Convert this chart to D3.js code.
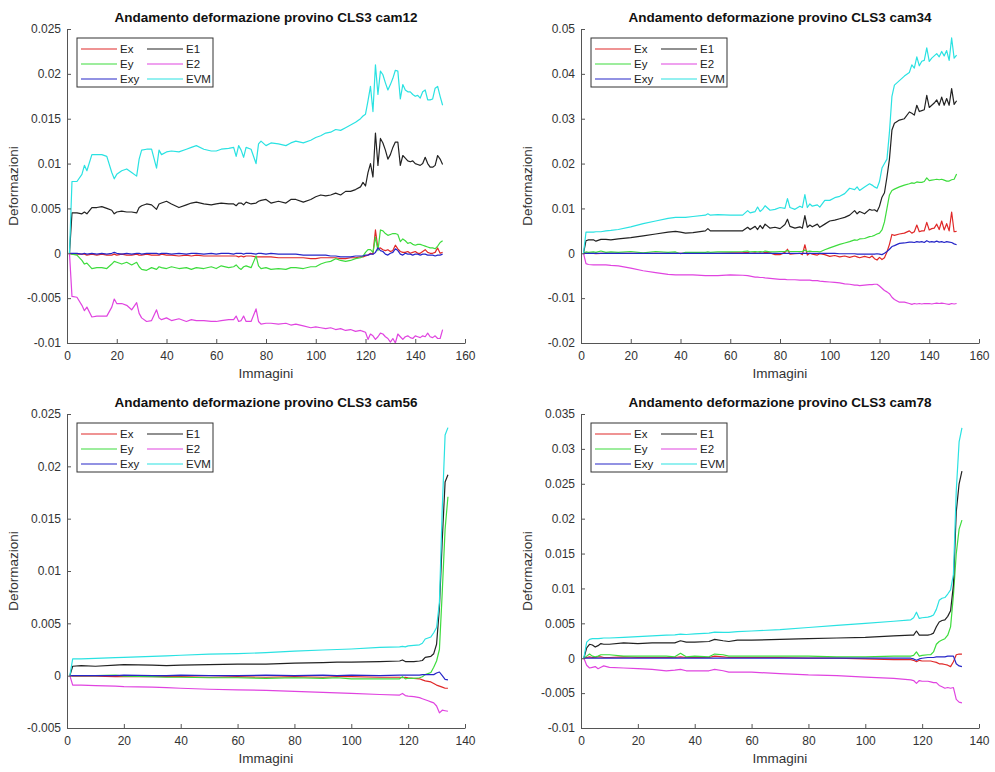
<!DOCTYPE html>
<html><head><meta charset="utf-8">
<script src="https://cdn.jsdelivr.net/npm/d3@7"></script>
<style>
body{margin:0;background:#fff}
svg{display:block}
text{font-family:"Liberation Sans",Arial,Helvetica,sans-serif}
</style>
</head><body>
<svg id="chart" width="995" height="772"></svg>
<script>
// ---------- series names / colours ----------
const seriesNames = ["Ex","Ey","Exy","E1","E2","EVM"];
const seriesColors = ["#e02828","#3ddc3d","#2626c8","#222222","#e044e0","#2ae2e2"];

// ---------- tick values / labels ----------
const xTicksTop = [0,20,40,60,80,100,120,140,160];
const xTicksBottom = [0,20,40,60,80,100,120,140];
const yTicksCam12 = [-0.01,-0.005,0,0.005,0.01,0.015,0.02,0.025];
const yLabelsCam12 = ["-0.01","-0.005","0","0.005","0.01","0.015","0.02","0.025"];
const yTicksCam34 = [-0.02,-0.01,0,0.01,0.02,0.03,0.04,0.05];
const yLabelsCam34 = ["-0.02","-0.01","0","0.01","0.02","0.03","0.04","0.05"];
const yTicksCam56 = [-0.005,0,0.005,0.01,0.015,0.02,0.025];
const yLabelsCam56 = ["-0.005","0","0.005","0.01","0.015","0.02","0.025"];
const yTicksCam78 = [-0.01,-0.005,0,0.005,0.01,0.015,0.02,0.025,0.03,0.035];
const yLabelsCam78 = ["-0.01","-0.005","0","0.005","0.01","0.015","0.02","0.025","0.03","0.035"];

// ---------- cam12 ----------
const imagesCam12 = [1,2,4,6,7,8,10,12,14,16, 18,19,20,22,24,26,28,29,30,32, 34,36,37,38,40,42,45,48,50,52, 55,58,60,62,65,67,68,69,70,71, 72,74,76,77,78,80,82,85,88,90, 92,95,98,100,102,104,106,108,110,112, 114,116,118,119,120,121,122,123,124,125, 126,127,128,129,130,131,132,133,134,135, 136,137,138,139,140,141,142,143,144,145, 146,147,148,149,150,151];
const exCam12 = [0,-0.1e-3,-0.1e-3,-0.1e-3,-0.1e-3,-0.2e-3,-0.1e-3,-0.2e-3,-0.1e-3,-0.2e-3,
 -0.2e-3,-0.1e-3,-0.2e-3,-0.1e-3,-0.2e-3,-0.2e-3,-0.1e-3,-0.2e-3,-0.2e-3,-0.1e-3,
 -0.2e-3,-0.2e-3,-0.2e-3,-0.1e-3,-0.2e-3,-0.2e-3,-0.3e-3,-0.2e-3,-0.3e-3,-0.2e-3,
 -0.3e-3,-0.3e-3,-0.3e-3,-0.3e-3,-0.3e-3,-0.3e-3,-0.3e-3,-0.4e-3,-0.3e-3,-0.4e-3,
 -0.3e-3,-0.3e-3,-0.4e-3,-0.4e-3,-0.4e-3,-0.4e-3,-0.4e-3,-0.5e-3,-0.5e-3,-0.5e-3,
 -0.5e-3,-0.5e-3,-0.6e-3,-0.6e-3,-0.5e-3,-0.5e-3,-0.5e-3,-0.5e-3,-0.6e-3,-0.6e-3,
 -0.5e-3,-0.5e-3,-0.4e-3,-0.4e-3,-0.3e-3,-0.2e-3,0,-0.1e-3,2.6e-3,0.5e-3,
 0.6e-3,0.4e-3,0.3e-3,0.4e-3,0.2e-3,0.3e-3,0.9e-3,0.5e-3,0.2e-3,0.1e-3,
 0.1e-3,0.2e-3,0,0.1e-3,0.2e-3,0,0,0.2e-3,0.4e-3,0.1e-3,
 0,0,0.1e-3,0.6e-3,0,0.1e-3];
const eyCam12 = [0,-0.1e-3,-0.2e-3,-0.8e-3,-1.2e-3,-1.1e-3,-1.7e-3,-1.6e-3,-1.6e-3,-1.7e-3,
 -1.2e-3,-0.9e-3,-1.0e-3,-1.2e-3,-1.0e-3,-1.3e-3,-1.0e-3,-1.5e-3,-1.8e-3,-1.9e-3,
 -1.6e-3,-1.8e-3,-1.5e-3,-1.6e-3,-1.7e-3,-1.5e-3,-1.7e-3,-1.6e-3,-1.8e-3,-1.6e-3,
 -1.7e-3,-1.5e-3,-1.7e-3,-1.4e-3,-1.6e-3,-1.5e-3,-1.3e-3,-1.6e-3,-1.8e-3,-1.5e-3,
 -1.4e-3,-1.6e-3,-0.3e-3,-1.4e-3,-1.7e-3,-1.6e-3,-1.8e-3,-1.7e-3,-1.8e-3,-1.6e-3,
 -1.6e-3,-1.7e-3,-1.5e-3,-1.5e-3,-1.2e-3,-1.0e-3,-0.9e-3,-0.6e-3,-0.8e-3,-0.9e-3,
 -0.8e-3,-0.6e-3,-0.5e-3,-0.3e-3,0.1e-3,0.4e-3,0.4e-3,0.1e-3,1.8e-3,0.3e-3,
 2.6e-3,2.5e-3,2.2e-3,2.0e-3,2.1e-3,2.2e-3,2.2e-3,2.1e-3,1.3e-3,1.6e-3,
 1.4e-3,1.1e-3,1.2e-3,1.0e-3,0.9e-3,1.0e-3,1.0e-3,0.9e-3,0.8e-3,0.7e-3,
 0.6e-3,0.6e-3,0.5e-3,0.8e-3,1.2e-3,1.4e-3];
const exyCam12 = [0,0,0,-0.1e-3,0,-0.1e-3,0,-0.1e-3,0,-0.1e-3,
 0,0.1e-3,0,-0.1e-3,0,-0.1e-3,0,0,-0.1e-3,0,
 0,0,-0.1e-3,0,0,-0.1e-3,0,-0.1e-3,0,0,
 -0.1e-3,0,-0.1e-3,0,0,-0.1e-3,0,0,0,-0.1e-3,
 0,0,-0.1e-3,0,0,-0.1e-3,0,-0.1e-3,-0.1e-3,-0.1e-3,
 -0.1e-3,-0.2e-3,-0.2e-3,-0.2e-3,-0.2e-3,-0.2e-3,-0.3e-3,-0.3e-3,-0.4e-3,-0.4e-3,
 -0.4e-3,-0.3e-3,-0.3e-3,-0.3e-3,-0.2e-3,-0.2e-3,-0.1e-3,-0.1e-3,0.1e-3,0.6e-3,
 0.3e-3,0.2e-3,-0.1e-3,-0.2e-3,0,0.1e-3,0.5e-3,0.3e-3,-0.1e-3,-0.2e-3,
 0,-0.1e-3,-0.1e-3,-0.2e-3,-0.1e-3,-0.1e-3,-0.2e-3,-0.1e-3,-0.1e-3,-0.2e-3,
 -0.2e-3,-0.2e-3,-0.3e-3,-0.2e-3,-0.2e-3,-0.1e-3];
const e1Cam12 = [0,4.5e-3,4.5e-3,4.4e-3,4.6e-3,4.4e-3,5.1e-3,5.1e-3,5.2e-3,5.0e-3,
 4.8e-3,4.4e-3,4.6e-3,4.7e-3,4.6e-3,4.6e-3,4.5e-3,5.1e-3,5.3e-3,5.5e-3,
 5.4e-3,4.9e-3,5.5e-3,5.6e-3,5.8e-3,5.5e-3,5.1e-3,5.4e-3,5.6e-3,5.7e-3,
 5.5e-3,5.4e-3,5.5e-3,5.6e-3,5.5e-3,5.5e-3,5.3e-3,5.6e-3,5.6e-3,5.4e-3,
 5.7e-3,5.5e-3,5.6e-3,5.8e-3,5.9e-3,6.0e-3,5.6e-3,5.8e-3,5.6e-3,6.0e-3,
 6.0e-3,5.7e-3,6.0e-3,6.3e-3,6.5e-3,6.4e-3,6.5e-3,6.7e-3,6.5e-3,6.9e-3,
 6.9e-3,7.1e-3,7.4e-3,7.9e-3,7.5e-3,9.0e-3,10.0e-3,8.5e-3,13.4e-3,9.8e-3,
 12.8e-3,12.3e-3,11.5e-3,10.5e-3,11.0e-3,11.8e-3,12.4e-3,12.4e-3,9.8e-3,10.9e-3,
 10.6e-3,10.3e-3,10.2e-3,10.3e-3,10.0e-3,9.9e-3,9.8e-3,10.0e-3,10.7e-3,10.0e-3,
 9.6e-3,9.6e-3,9.8e-3,10.9e-3,10.5e-3,9.9e-3];
const e2Cam12 = [0,-4.8e-3,-4.9e-3,-5.8e-3,-6.4e-3,-6.0e-3,-7.1e-3,-7.0e-3,-7.0e-3,-7.0e-3,
 -6.0e-3,-5.1e-3,-5.6e-3,-5.6e-3,-5.8e-3,-6.3e-3,-5.5e-3,-6.7e-3,-7.2e-3,-7.6e-3,
 -7.5e-3,-6.3e-3,-7.2e-3,-7.4e-3,-7.2e-3,-7.5e-3,-7.3e-3,-7.6e-3,-7.4e-3,-7.5e-3,
 -7.5e-3,-7.6e-3,-7.6e-3,-7.5e-3,-7.4e-3,-7.4e-3,-7.0e-3,-7.6e-3,-7.5e-3,-7.0e-3,
 -7.6e-3,-7.6e-3,-6.2e-3,-7.6e-3,-7.9e-3,-7.8e-3,-7.8e-3,-7.9e-3,-7.8e-3,-8.0e-3,
 -7.9e-3,-8.1e-3,-8.3e-3,-8.2e-3,-8.3e-3,-8.4e-3,-8.3e-3,-8.5e-3,-8.4e-3,-8.6e-3,
 -8.5e-3,-8.7e-3,-8.6e-3,-8.7e-3,-8.8e-3,-9.6e-3,-9.0e-3,-9.2e-3,-9.6e-3,-9.3e-3,
 -8.9e-3,-9.0e-3,-9.3e-3,-9.5e-3,-9.9e-3,-9.5e-3,-10.0e-3,-9.0e-3,-9.3e-3,-9.6e-3,
 -9.3e-3,-9.2e-3,-9.4e-3,-9.5e-3,-9.2e-3,-9.3e-3,-9.4e-3,-9.2e-3,-9.3e-3,-8.9e-3,
 -9.3e-3,-9.4e-3,-9.2e-3,-9.5e-3,-9.5e-3,-8.5e-3];
const evmCam12 = [0,8.0e-3,8.0e-3,8.8e-3,9.8e-3,9.2e-3,11.0e-3,11.0e-3,11.0e-3,10.8e-3,
 9.0e-3,8.3e-3,8.8e-3,9.2e-3,9.4e-3,9.0e-3,8.6e-3,10.5e-3,11.5e-3,11.6e-3,
 11.6e-3,9.5e-3,11.5e-3,11.0e-3,11.3e-3,11.4e-3,11.3e-3,11.6e-3,11.8e-3,12.0e-3,
 11.6e-3,11.4e-3,11.4e-3,11.6e-3,11.7e-3,11.8e-3,10.8e-3,12.0e-3,11.5e-3,10.7e-3,
 11.8e-3,11.6e-3,10.0e-3,12.2e-3,12.5e-3,12.0e-3,12.3e-3,12.2e-3,12.0e-3,12.3e-3,
 12.5e-3,12.3e-3,12.6e-3,12.9e-3,13.1e-3,13.4e-3,13.5e-3,13.8e-3,13.7e-3,14.0e-3,
 14.3e-3,14.6e-3,15.0e-3,15.3e-3,15.5e-3,17.0e-3,18.6e-3,15.8e-3,21.0e-3,17.7e-3,
 20.3e-3,19.9e-3,19.0e-3,18.2e-3,18.8e-3,19.5e-3,20.4e-3,20.3e-3,17.2e-3,18.8e-3,
 18.2e-3,18.0e-3,18.0e-3,17.7e-3,17.5e-3,17.6e-3,17.3e-3,18.0e-3,18.2e-3,17.1e-3,
 17.1e-3,17.2e-3,18.4e-3,18.6e-3,17.5e-3,16.5e-3];

// ---------- cam34 ----------
const imagesCam34 = [1,2,3,5,6,8,10,12,15,20, 25,30,35,38,40,42,45,50,51,52, 55,60,65,67,68,70,71,72,73,74, 76,78,80,82,83,84,86,88,89,90, 91,92,93,95,96,98,100,102,104,106, 108,110,111,112,114,116,117,118,119,120, 121,122,123,124,125,126,128,130,132,133, 134,135,136,137,138,139,140,141,142,143, 144,145,146,147,148,149,150,151];
const exCam34 = [0,0,0,0,-0.1e-3,0,0,0,0,0,
 0,0,0,0,0,0,0,0,0,0,
 0,0.1e-3,0.1e-3,0.2e-3,0,0.1e-3,0,0.1e-3,0,0.2e-3,
 0.1e-3,-0.3e-3,-0.3e-3,0.2e-3,0.9e-3,-0.2e-3,-0.1e-3,0,-0.3e-3,1.9e-3,
 -0.4e-3,0,-0.2e-3,-0.4e-3,-0.1e-3,-0.3e-3,-0.7e-3,-0.5e-3,-0.8e-3,-0.6e-3,
 -0.9e-3,-0.6e-3,-0.8e-3,-1.0e-3,-0.7e-3,-1.0e-3,-0.6e-3,-1.2e-3,-1.5e-3,-0.9e-3,
 -1.4e-3,-1.0e-3,0.3e-3,2.0e-3,4.2e-3,4.0e-3,4.3e-3,4.5e-3,5.0e-3,4.5e-3,
 4.8e-3,6.3e-3,4.8e-3,5.0e-3,5.0e-3,6.9e-3,5.2e-3,5.5e-3,5.6e-3,6.5e-3,
 5.3e-3,7.2e-3,5.2e-3,6.6e-3,5.0e-3,9.2e-3,4.8e-3,4.9e-3];
const eyCam34 = [0,0.3e-3,0.2e-3,0.3e-3,0.2e-3,0.5e-3,0.2e-3,0.3e-3,0.2e-3,0.4e-3,
 0.1e-3,0.4e-3,0.2e-3,0.3e-3,-0.1e-3,0.2e-3,0.2e-3,0.2e-3,0.3e-3,0.2e-3,
 0.3e-3,0.3e-3,0.4e-3,0.5e-3,0.3e-3,0.4e-3,0.3e-3,0.4e-3,0.3e-3,0.5e-3,
 0.3e-3,0.3e-3,0.4e-3,0.4e-3,0.6e-3,0.4e-3,0.4e-3,0.4e-3,0.4e-3,0.7e-3,
 0.4e-3,0.5e-3,0.4e-3,0.4e-3,0.3e-3,0.8e-3,1.2e-3,1.6e-3,2.0e-3,2.3e-3,
 2.6e-3,3.0e-3,2.9e-3,3.2e-3,3.3e-3,3.7e-3,3.8e-3,4.0e-3,4.3e-3,4.5e-3,
 5.2e-3,7.0e-3,10.0e-3,13.0e-3,14.0e-3,14.3e-3,14.8e-3,15.2e-3,15.5e-3,15.7e-3,
 15.6e-3,15.9e-3,15.8e-3,15.8e-3,16.0e-3,16.8e-3,16.2e-3,16.3e-3,16.4e-3,16.5e-3,
 16.4e-3,16.5e-3,16.3e-3,16.1e-3,16.1e-3,16.4e-3,16.5e-3,17.7e-3];
const exyCam34 = [0,0,0,0,0,0,0,0,0,0,
 0,0,0,0,0,0,0,0,0,0,
 0,0,0,0,0,0,0,0,0,0,
 0,0,0,0,0,0,0,0,0,0,
 0,0,0,0,0,0,0,0,-0.1e-3,-0.1e-3,
 -0.1e-3,-0.1e-3,-0.2e-3,-0.2e-3,-0.2e-3,-0.2e-3,-0.2e-3,-0.2e-3,-0.1e-3,-0.2e-3,
 -0.3e-3,0,0.4e-3,0.9e-3,1.5e-3,1.7e-3,2.2e-3,2.3e-3,2.5e-3,2.5e-3,
 2.4e-3,2.6e-3,2.5e-3,2.6e-3,2.4e-3,2.8e-3,2.5e-3,2.6e-3,2.5e-3,2.7e-3,
 2.5e-3,2.6e-3,2.4e-3,2.6e-3,2.5e-3,2.4e-3,2.1e-3,1.9e-3];
const e1Cam34 = [0,2.8e-3,3.0e-3,3.0e-3,2.7e-3,3.1e-3,3.1e-3,3.0e-3,3.2e-3,3.5e-3,
 3.9e-3,4.3e-3,4.7e-3,4.9e-3,4.7e-3,4.5e-3,4.6e-3,5.0e-3,5.5e-3,5.0e-3,
 5.0e-3,5.0e-3,5.0e-3,5.8e-3,5.3e-3,6.0e-3,5.3e-3,6.2e-3,5.5e-3,6.5e-3,
 5.6e-3,5.8e-3,5.5e-3,6.4e-3,7.6e-3,6.0e-3,5.6e-3,5.9e-3,5.6e-3,8.4e-3,
 5.8e-3,6.3e-3,5.9e-3,6.5e-3,5.8e-3,6.5e-3,7.2e-3,7.4e-3,7.7e-3,8.0e-3,
 8.5e-3,9.5e-3,8.8e-3,9.3e-3,8.8e-3,9.8e-3,9.6e-3,9.7e-3,9.3e-3,10.5e-3,
 12.5e-3,13.5e-3,17.0e-3,21.0e-3,27.5e-3,29.0e-3,29.7e-3,30.0e-3,31.5e-3,31.2e-3,
 30.8e-3,33.0e-3,31.6e-3,31.8e-3,32.0e-3,35.2e-3,32.5e-3,33.0e-3,33.5e-3,34.2e-3,
 33.0e-3,34.8e-3,33.0e-3,34.5e-3,33.0e-3,36.7e-3,33.2e-3,34.0e-3];
const e2Cam34 = [0,-2.3e-3,-2.5e-3,-2.6e-3,-2.6e-3,-2.6e-3,-2.6e-3,-2.7e-3,-2.8e-3,-3.3e-3,
 -3.9e-3,-4.3e-3,-4.7e-3,-4.8e-3,-4.8e-3,-4.8e-3,-4.8e-3,-5.0e-3,-5.0e-3,-5.0e-3,
 -5.0e-3,-4.8e-3,-4.9e-3,-5.0e-3,-5.1e-3,-5.3e-3,-5.3e-3,-5.4e-3,-5.4e-3,-5.5e-3,
 -5.6e-3,-5.7e-3,-5.8e-3,-5.8e-3,-5.9e-3,-5.9e-3,-5.9e-3,-6.0e-3,-6.0e-3,-6.0e-3,
 -6.0e-3,-6.0e-3,-6.1e-3,-6.1e-3,-6.2e-3,-6.3e-3,-6.4e-3,-6.5e-3,-6.6e-3,-6.8e-3,
 -6.9e-3,-7.1e-3,-7.1e-3,-7.2e-3,-7.1e-3,-7.0e-3,-7.0e-3,-6.9e-3,-6.9e-3,-7.3e-3,
 -7.8e-3,-8.3e-3,-8.6e-3,-9.0e-3,-9.8e-3,-10.3e-3,-10.9e-3,-10.9e-3,-11.2e-3,-11.4e-3,
 -11.2e-3,-11.3e-3,-11.2e-3,-11.3e-3,-11.2e-3,-11.2e-3,-11.2e-3,-11.3e-3,-11.2e-3,-11.1e-3,
 -11.2e-3,-11.1e-3,-11.2e-3,-11.3e-3,-11.4e-3,-11.2e-3,-11.3e-3,-11.2e-3];
const evmCam34 = [0,4.7e-3,4.7e-3,4.7e-3,4.8e-3,4.8e-3,5.0e-3,5.1e-3,5.3e-3,5.9e-3,
 6.6e-3,7.2e-3,7.8e-3,8.0e-3,8.0e-3,8.0e-3,8.2e-3,8.5e-3,8.8e-3,8.5e-3,
 8.6e-3,8.5e-3,8.5e-3,9.5e-3,9.0e-3,9.3e-3,10.3e-3,9.3e-3,9.8e-3,10.6e-3,
 9.6e-3,9.8e-3,10.2e-3,10.0e-3,12.2e-3,10.2e-3,9.8e-3,10.5e-3,10.2e-3,13.1e-3,
 10.2e-3,11.0e-3,10.5e-3,10.8e-3,10.3e-3,11.8e-3,11.8e-3,12.4e-3,12.7e-3,13.3e-3,
 14.5e-3,14.2e-3,14.8e-3,14.0e-3,14.8e-3,15.5e-3,15.2e-3,14.8e-3,14.5e-3,16.0e-3,
 19.0e-3,20.0e-3,21.0e-3,27.0e-3,35.0e-3,37.5e-3,38.5e-3,39.5e-3,40.3e-3,42.0e-3,
 41.3e-3,43.8e-3,41.8e-3,42.8e-3,43.0e-3,45.8e-3,42.8e-3,43.5e-3,44.0e-3,44.5e-3,
 43.8e-3,45.0e-3,44.0e-3,45.2e-3,43.0e-3,48.0e-3,43.5e-3,44.2e-3];

// ---------- cam56 ----------
const imagesCam56 = [1,2,5,10,17,20,30,35,40,50, 60,70,80,90,95,100,110,117,118,119, 120,122,124,125,126,127,128,129,130,131, 132,133,134];
const exCam56 = [0,-0.05e-3,-0.05e-3,-0.05e-3,-0.1e-3,-0.1e-3,-0.1e-3,-0.1e-3,-0.1e-3,-0.15e-3,
 -0.1e-3,-0.15e-3,-0.1e-3,-0.15e-3,-0.1e-3,-0.1e-3,-0.15e-3,-0.15e-3,-0.2e-3,-0.15e-3,
 -0.2e-3,-0.25e-3,-0.3e-3,-0.4e-3,-0.5e-3,-0.55e-3,-0.6e-3,-0.75e-3,-0.9e-3,-1.0e-3,
 -1.1e-3,-1.2e-3,-1.2e-3];
const eyCam56 = [0,0,0,0,0.05e-3,-0.05e-3,-0.1e-3,-0.15e-3,-0.15e-3,-0.2e-3,
 -0.2e-3,-0.25e-3,-0.2e-3,-0.25e-3,-0.2e-3,-0.3e-3,-0.3e-3,-0.3e-3,-0.1e-3,-0.3e-3,
 -0.25e-3,-0.25e-3,-0.2e-3,-0.1e-3,0.1e-3,0.2e-3,0.3e-3,0.8e-3,1.4e-3,2.5e-3,
 8.0e-3,14.0e-3,17.1e-3];
const exyCam56 = [0,0,0,0,0,0.05e-3,0,0,0.05e-3,0,
 0,0.05e-3,0,0.05e-3,0,0.05e-3,0,0.05e-3,0.05e-3,0.05e-3,
 0.05e-3,0.05e-3,0.05e-3,0.1e-3,0.1e-3,0.1e-3,0.1e-3,0.1e-3,0.25e-3,0.35e-3,
 0,-0.35e-3,-0.4e-3];
const e1Cam56 = [0,0.9e-3,0.95e-3,0.9e-3,1.0e-3,1.05e-3,1.0e-3,0.95e-3,1.0e-3,1.05e-3,
 1.1e-3,1.1e-3,1.2e-3,1.25e-3,1.3e-3,1.3e-3,1.35e-3,1.4e-3,1.5e-3,1.35e-3,
 1.35e-3,1.35e-3,1.4e-3,1.45e-3,1.75e-3,1.8e-3,1.85e-3,2.1e-3,3.0e-3,6.5e-3,
 13.0e-3,18.5e-3,19.2e-3];
const e2Cam56 = [0,-0.9e-3,-0.9e-3,-0.95e-3,-1.0e-3,-1.05e-3,-1.1e-3,-1.15e-3,-1.2e-3,-1.3e-3,
 -1.35e-3,-1.4e-3,-1.5e-3,-1.6e-3,-1.65e-3,-1.7e-3,-1.8e-3,-1.85e-3,-1.7e-3,-1.9e-3,
 -1.95e-3,-2.0e-3,-2.1e-3,-2.2e-3,-2.3e-3,-2.4e-3,-2.5e-3,-2.6e-3,-2.9e-3,-3.55e-3,
 -3.3e-3,-3.35e-3,-3.4e-3];
const evmCam56 = [0,1.6e-3,1.6e-3,1.65e-3,1.72e-3,1.75e-3,1.85e-3,1.9e-3,1.95e-3,2.05e-3,
 2.1e-3,2.2e-3,2.35e-3,2.45e-3,2.5e-3,2.55e-3,2.7e-3,2.75e-3,2.8e-3,2.75e-3,
 2.85e-3,2.9e-3,2.95e-3,3.1e-3,3.5e-3,3.6e-3,3.7e-3,4.1e-3,4.6e-3,7.0e-3,
 16.0e-3,23.0e-3,23.7e-3];

// ---------- cam78 ----------
const imagesCam78 = [1,2,3,4,5,6,7,8,10,15, 20,25,30,33,35,37,40,45,47,50, 52,55,60,70,80,90,100,110,116,117, 118,119,120,122,123,124,125,126,127,128, 129,130,131,132,133,134];
const exCam78 = [0,0.1e-3,0.2e-3,0.1e-3,0.1e-3,0.2e-3,0.2e-3,0.1e-3,0.1e-3,0.2e-3,
 0.1e-3,0.1e-3,0.1e-3,0.1e-3,0.2e-3,0.1e-3,0.1e-3,0.1e-3,0.3e-3,0.2e-3,
 0.1e-3,0.1e-3,0.1e-3,0.1e-3,0,0,-0.1e-3,-0.2e-3,-0.2e-3,-0.3e-3,
 -0.5e-3,-0.3e-3,-0.4e-3,-0.4e-3,-0.4e-3,-0.5e-3,-0.6e-3,-0.8e-3,-0.8e-3,-0.9e-3,
 -1.0e-3,-1.2e-3,-0.5e-3,0.5e-3,0.6e-3,0.6e-3];
const eyCam78 = [0,0.3e-3,0.6e-3,0.3e-3,0.2e-3,0.3e-3,0.5e-3,0.5e-3,0.5e-3,0.3e-3,
 0.3e-3,0.3e-3,0.3e-3,0.2e-3,0.7e-3,0.2e-3,0.3e-3,0.2e-3,0.6e-3,0.5e-3,
 0.3e-3,0.3e-3,0.3e-3,0.3e-3,0.3e-3,0.2e-3,0.2e-3,0.3e-3,0.3e-3,0.4e-3,
 0.9e-3,0.3e-3,0.4e-3,0.5e-3,0.5e-3,0.9e-3,2.0e-3,2.4e-3,2.6e-3,2.8e-3,
 3.3e-3,4.5e-3,9.0e-3,15.0e-3,18.5e-3,19.8e-3];
const exyCam78 = [0,0,0,0,0,0,0,0,0,0,
 0,0,0,0,0,0,0,0,0,0,
 0,0,0,0,0,0,0,0,0,-0.1e-3,
 -0.3e-3,-0.1e-3,0,0.1e-3,0.1e-3,0.1e-3,0.2e-3,0.2e-3,0.2e-3,0.2e-3,
 0.3e-3,0.3e-3,0.3e-3,-0.8e-3,-1.1e-3,-1.2e-3];
const e1Cam78 = [0,1.5e-3,2.0e-3,1.9e-3,1.6e-3,1.8e-3,2.1e-3,2.0e-3,2.0e-3,2.2e-3,
 2.1e-3,2.2e-3,2.2e-3,2.2e-3,2.5e-3,2.3e-3,2.3e-3,2.4e-3,2.7e-3,2.5e-3,
 2.4e-3,2.6e-3,2.6e-3,2.7e-3,2.8e-3,2.9e-3,3.0e-3,3.2e-3,3.3e-3,3.3e-3,
 3.9e-3,3.3e-3,3.3e-3,3.3e-3,3.4e-3,3.6e-3,4.5e-3,5.2e-3,5.4e-3,5.5e-3,
 6.0e-3,6.8e-3,10.5e-3,21.0e-3,25.0e-3,26.8e-3];
const e2Cam78 = [0,-1.0e-3,-1.4e-3,-1.3e-3,-1.2e-3,-1.5e-3,-1.3e-3,-1.1e-3,-1.3e-3,-1.4e-3,
 -1.5e-3,-1.6e-3,-1.8e-3,-1.7e-3,-1.6e-3,-1.8e-3,-1.8e-3,-1.8e-3,-1.6e-3,-1.8e-3,
 -2.0e-3,-2.0e-3,-2.0e-3,-2.2e-3,-2.4e-3,-2.5e-3,-2.7e-3,-2.9e-3,-3.1e-3,-3.2e-3,
 -3.6e-3,-3.2e-3,-3.3e-3,-3.3e-3,-3.4e-3,-3.5e-3,-3.5e-3,-3.9e-3,-4.1e-3,-4.3e-3,
 -4.2e-3,-4.3e-3,-4.2e-3,-5.9e-3,-6.3e-3,-6.4e-3];
const evmCam78 = [0,2.3e-3,2.7e-3,2.8e-3,2.8e-3,2.8e-3,2.85e-3,2.9e-3,2.9e-3,3.0e-3,
 3.1e-3,3.2e-3,3.3e-3,3.35e-3,3.45e-3,3.4e-3,3.5e-3,3.6e-3,3.75e-3,3.7e-3,
 3.7e-3,3.8e-3,3.9e-3,4.1e-3,4.4e-3,4.7e-3,5.0e-3,5.3e-3,5.5e-3,5.8e-3,
 6.6e-3,5.7e-3,5.8e-3,5.9e-3,6.0e-3,6.2e-3,7.0e-3,8.3e-3,8.6e-3,8.7e-3,
 9.2e-3,9.8e-3,12.0e-3,24.0e-3,31.0e-3,33.0e-3];

// ---------- panels ----------
const panels = [
  {title:"Andamento deformazione provino CLS3 cam12", left:67, top:29, images:imagesCam12,
   series:[exCam12,eyCam12,exyCam12,e1Cam12,e2Cam12,evmCam12],
   xMax:160, xTicks:xTicksTop, yDomain:[-0.01,0.025], yTicks:yTicksCam12, yLabels:yLabelsCam12},
  {title:"Andamento deformazione provino CLS3 cam34", left:581, top:29, images:imagesCam34,
   series:[exCam34,eyCam34,exyCam34,e1Cam34,e2Cam34,evmCam34],
   xMax:160, xTicks:xTicksTop, yDomain:[-0.02,0.05], yTicks:yTicksCam34, yLabels:yLabelsCam34},
  {title:"Andamento deformazione provino CLS3 cam56", left:67, top:414, images:imagesCam56,
   series:[exCam56,eyCam56,exyCam56,e1Cam56,e2Cam56,evmCam56],
   xMax:140, xTicks:xTicksBottom, yDomain:[-0.005,0.025], yTicks:yTicksCam56, yLabels:yLabelsCam56},
  {title:"Andamento deformazione provino CLS3 cam78", left:581, top:414, images:imagesCam78,
   series:[exCam78,eyCam78,exyCam78,e1Cam78,e2Cam78,evmCam78],
   xMax:140, xTicks:xTicksBottom, yDomain:[-0.01,0.035], yTicks:yTicksCam78, yLabels:yLabelsCam78}
];

const W = 398, H = 314;
const svg = d3.select("#chart");
const axisColor = "#555", textColor = "#333";

panels.forEach(p => {
  const g = svg.append("g").attr("transform", `translate(${p.left},${p.top})`);
  const x = d3.scaleLinear().domain([0, p.xMax]).range([0, W]);
  const y = d3.scaleLinear().domain(p.yDomain).range([H, 0]);

  // lines
  p.series.forEach((vals, si) => {
    const pts = p.images.map((im, i) => [im, vals[i]]);
    g.append("path")
      .datum(pts)
      .attr("fill", "none")
      .attr("stroke", seriesColors[si])
      .attr("stroke-width", 1.2)
      .attr("stroke-linejoin", "round")
      .attr("d", d3.line().x(d => x(d[0])).y(d => y(d[1])));
  });

  // axes
  const xAxis = d3.axisBottom(x).tickValues(p.xTicks).tickFormat(d3.format("d"))
    .tickSizeInner(-4).tickSizeOuter(0).tickPadding(8);
  const yAxis = d3.axisLeft(y).tickValues(p.yTicks).tickFormat((d, i) => p.yLabels[i])
    .tickSizeInner(-4).tickSizeOuter(0).tickPadding(6);
  const gx = g.append("g").attr("transform", `translate(0,${H})`).call(xAxis);
  const gy = g.append("g").call(yAxis);
  [gx, gy].forEach(ax => {
    ax.select(".domain").attr("stroke", axisColor).attr("stroke-width", 1);
    ax.selectAll(".tick line").attr("stroke", axisColor);
    ax.selectAll(".tick text").attr("fill", textColor).attr("font-size", 12)
      .attr("font-family", '"Liberation Sans",Arial,sans-serif');
  });

  // title and axis labels
  g.append("text").attr("x", W/2).attr("y", -7).attr("text-anchor", "middle")
    .attr("font-weight", "bold").attr("font-size", 13.5).attr("fill", "#111").text(p.title);
  g.append("text").attr("x", W/2).attr("y", H + 35).attr("text-anchor", "middle")
    .attr("font-size", 13.5).attr("fill", textColor).text("Immagini");
  g.append("text").attr("transform", `translate(-49,${H/2}) rotate(-90)`)
    .attr("text-anchor", "middle").attr("font-size", 13.5).attr("fill", textColor).text("Deformazioni");

  // legend
  const lg = g.append("g").attr("transform", "translate(10,9)");
  lg.append("rect").attr("width", 136).attr("height", 49).attr("fill", "#fff")
    .attr("stroke", "#333").attr("stroke-width", 1);
  seriesNames.forEach((name, i) => {
    const col = Math.floor(i / 3), row = i % 3;
    const ox = 4 + col * 66, oy = 11 + row * 15;
    lg.append("line").attr("x1", ox).attr("x2", ox + 36).attr("y1", oy).attr("y2", oy)
      .attr("stroke", seriesColors[i]).attr("stroke-width", 1.1);
    lg.append("text").attr("x", ox + 39).attr("y", oy + 4).attr("font-size", 11.5)
      .attr("fill", "#222").text(name);
  });
});
</script>
</body></html>
